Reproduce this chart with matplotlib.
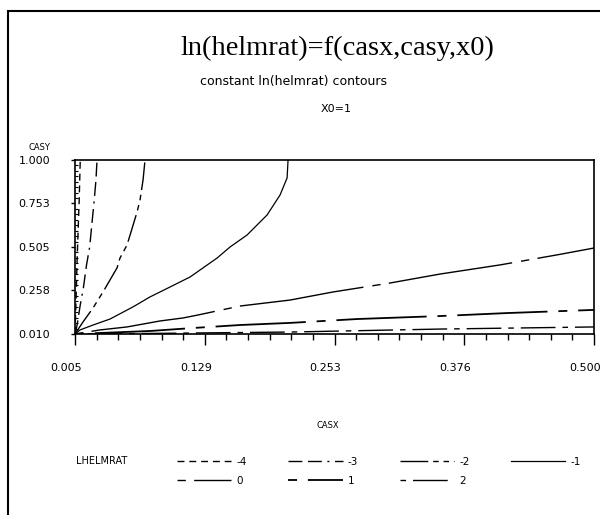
import matplotlib
matplotlib.use("Agg")
import matplotlib.pyplot as plt
from matplotlib.patches import Rectangle
from matplotlib.ticker import FixedLocator, FixedFormatter, AutoMinorLocator
from matplotlib.transforms import ScaledTranslation

# contour lines of constant ln(helmrat) (casx, casy)
CASX_M4 = [0.005, 0.006, 0.007, 0.008, 0.009, 0.010]
CASY_M4 = [0.010, 0.203, 0.431, 0.602, 0.772, 1.000]

CASX_M3 = [0.005, 0.007, 0.010, 0.013, 0.016, 0.019, 0.021, 0.023, 0.025, 0.026]
CASY_M3 = [0.010, 0.061, 0.175, 0.272, 0.403, 0.505, 0.630, 0.750, 0.886, 1.000]

CASX_M2 = [0.005, 0.0069, 0.0126, 0.0222, 0.0317, 0.0451, 0.0479, 0.0546,
           0.0584, 0.0642, 0.0670, 0.0699, 0.0718]
CASY_M2 = [0.010, 0.027, 0.078, 0.158, 0.249, 0.386, 0.442, 0.516,
           0.590, 0.704, 0.772, 0.886, 1.000]

CASX_M1 = [0.005, 0.0098, 0.0222, 0.0384, 0.0603, 0.0766, 0.0861, 0.1147,
           0.1405, 0.1529, 0.1691, 0.1882, 0.2006, 0.2073, 0.2082]
CASY_M1 = [0.010, 0.033, 0.061, 0.095, 0.164, 0.221, 0.249, 0.334,
           0.442, 0.505, 0.573, 0.687, 0.801, 0.898, 1.000]

CASX_0 = [0.005, 0.0289, 0.0546, 0.0861, 0.1080, 0.1223, 0.1624, 0.2101,
          0.2511, 0.3055, 0.3532, 0.4105, 0.4648, 0.500]
CASY_0 = [0.010, 0.033, 0.050, 0.084, 0.101, 0.118, 0.169, 0.203,
          0.249, 0.300, 0.351, 0.403, 0.460, 0.499]

CASX_1 = [0.005, 0.0766, 0.1176, 0.1624, 0.2101, 0.2740, 0.3532, 0.4171, 0.500]
CASY_1 = [0.010, 0.027, 0.044, 0.061, 0.073, 0.095, 0.112, 0.129, 0.147]

CASX_2 = [0.005, 0.0766, 0.2101, 0.3532, 0.500]
CASY_2 = [0.010, 0.013, 0.021, 0.038, 0.050]

X_TICKS = [0.005, 0.12875, 0.2525, 0.37625, 0.500]
X_LABELS = ["0.005", "0.129", "0.253", "0.376", "0.500"]
Y_TICKS = [0.010, 0.2575, 0.505, 0.7525, 1.000]
Y_LABELS = ["0.010", "0.258", "0.505", "0.753", "1.000"]

# (level, x, y, dash pattern, linewidth)
CONTOURS = [
    ("-4", CASX_M4, CASY_M4, (0, (5, 3.5)), 1.0),
    ("-3", CASX_M3, CASY_M3, (0, (10, 4, 10, 4, 1.5, 4)), 1.0),
    ("-2", CASX_M2, CASY_M2, (0, (20, 3.5, 4, 3.5, 4, 3.5)), 1.0),
    ("-1", CASX_M1, CASY_M1, "-", 0.9),
    ("0", CASX_0, CASY_0, (0, (6, 6, 90, 6.5)), 1.0),
    ("1", CASX_1, CASY_1, (0, (5, 6, 50, 6)), 1.3),
    ("2", CASX_2, CASY_2, (0, (4, 5, 25, 5)), 1.0),
]

fig = plt.figure(figsize=(6, 5.15), dpi=100)
ax = fig.add_axes([0.125, 0.3515, 0.865, 0.3379])

handles = {}
for level, xs, ys, ls, lw in CONTOURS:
    (line,) = ax.plot(xs, ys, color="black", linestyle=ls, lw=lw)
    handles[level] = line

ax.set_xlim(0.005, 0.5)
ax.set_ylim(0.010, 1.0)
ax.xaxis.set_major_locator(FixedLocator(X_TICKS))
ax.xaxis.set_major_formatter(FixedFormatter(X_LABELS))
ax.xaxis.set_minor_locator(AutoMinorLocator(6))
ax.yaxis.set_major_locator(FixedLocator(Y_TICKS))
ax.yaxis.set_major_formatter(FixedFormatter(Y_LABELS))
ax.yaxis.set_minor_locator(AutoMinorLocator(8))

ax.tick_params(axis="x", which="major", direction="out", length=8, width=1,
               labelsize=8, pad=13)
ax.tick_params(axis="x", which="minor", direction="out", length=4.3, width=1)
ax.tick_params(axis="y", which="major", direction="out", length=3, width=1,
               labelsize=8, pad=15)
ax.tick_params(axis="y", which="minor", direction="in", length=2.5, width=0.8)
for sp in ax.spines.values():
    sp.set_linewidth(1.2)

# the old plotter put the x labels a bit left of their ticks
shift = ScaledTranslation(-9 / 100, 0, fig.dpi_scale_trans)
for lab in ax.get_xticklabels():
    lab.set_transform(lab.get_transform() + shift)

fig.text(337 / 600, 1 - 48 / 515, "ln(helmrat)=f(casx,casy,x0)", ha="center",
         va="center", family="Liberation Serif", fontsize=20.5)
fig.text(293 / 600, 1 - 82 / 515, "constant ln(helmrat) contours", ha="center",
         va="center", fontsize=9)
fig.text(336 / 600, 1 - 109 / 515, "X0=1", ha="center", va="center", fontsize=8)
fig.text(39 / 600, 1 - 147 / 515, "CASY", ha="center", va="center", fontsize=6)
fig.text(328 / 600, 1 - 426 / 515, "CASX", ha="center", va="center", fontsize=6)
fig.text(76 / 600, 1 - 461 / 515, "LHELMRAT", ha="left", va="center", fontsize=7)

order = ["-4", "0", "-3", "1", "-2", "2", "-1"]
fig.legend([handles[k] for k in order], order, ncol=4, loc="upper left",
           bbox_to_anchor=(177 / 600, 1 - 457 / 515), frameon=False,
           fontsize=7.5, handlelength=5.2, handletextpad=0.5,
           columnspacing=4.0, labelspacing=0.85, borderpad=0, borderaxespad=0)

# page border
fig.add_artist(Rectangle((8 / 600, -0.05), 1.2, 1 - 11 / 515 + 0.05,
                         transform=fig.transFigure, fill=False, lw=1.5,
                         edgecolor="black"))

fig.savefig("out.png", dpi=100)
